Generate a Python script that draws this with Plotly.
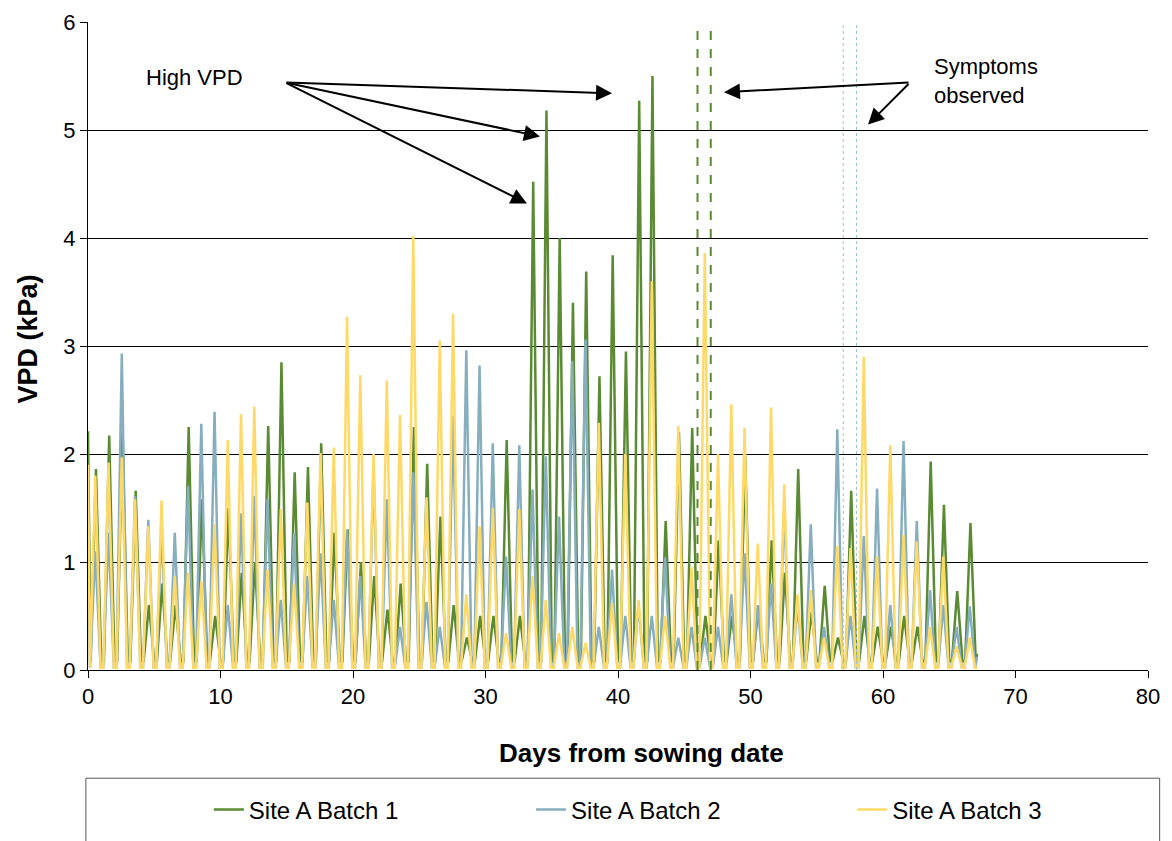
import plotly.graph_objects as go

# Daily peak VPD (kPa), one value per day 0..66
batch1_peaks = [1.86, 2.17, 2.21, 1.66, 0.60, 0.80, 0.60, 2.25, 1.58, 0.50,
                1.50, 0.90, 1.00, 2.26, 2.85, 1.83, 1.88, 2.10, 1.27, 1.30,
                1.00, 0.87, 0.56, 0.80, 2.25, 1.91, 1.42, 0.60, 0.30, 0.50,
                0.50, 2.13, 0.50, 4.52, 5.18, 4.00, 3.40, 3.69, 2.72, 3.84,
                2.95, 5.27, 5.50, 1.38, 2.20, 2.24, 0.50, 1.20, 0.50, 1.98,
                0.60, 1.20, 0.90, 1.86, 0.54, 0.78, 0.30, 1.66, 0.50, 0.40,
                0.40, 0.50, 0.40, 1.93, 1.53, 0.73, 1.36]
batch2_peaks = [1.10, 1.27, 2.93, 1.61, 1.39, 1.32, 1.27, 1.70, 2.28, 2.39,
                0.60, 1.45, 1.61, 1.58, 0.65, 1.27, 0.87, 1.08, 0.65, 1.30,
                0.87, 1.86, 1.58, 0.40, 1.83, 0.63, 0.40, 2.35, 2.96, 2.82,
                2.10, 1.05, 2.08, 1.67, 1.98, 1.42, 2.86, 3.06, 0.40, 0.93,
                0.50, 0.60, 0.50, 1.04, 0.30, 0.40, 0.30, 0.40, 0.70, 1.08,
                0.60, 0.80, 1.52, 0.60, 1.35, 0.40, 2.23, 0.50, 1.24, 1.68,
                0.60, 2.12, 1.38, 0.74, 0.60, 0.40, 0.59]
batch3_peaks = [1.80, 1.92, 1.97, 1.58, 1.33, 1.57, 0.87, 0.90, 0.82, 1.35,
                2.13, 2.37, 2.44, 0.93, 1.49, 0.80, 1.55, 2.01, 2.06, 3.27,
                2.73, 2.00, 2.68, 2.36, 4.02, 1.60, 3.05, 3.30, 0.70, 1.33,
                1.50, 0.34, 1.49, 0.87, 0.65, 0.34, 0.40, 0.25, 2.29, 0.62,
                2.00, 0.65, 3.60, 0.50, 2.26, 0.95, 3.86, 2.00, 2.46, 2.24,
                1.17, 2.43, 1.72, 0.70, 0.74, 0.30, 1.15, 1.13, 2.90, 1.05,
                2.08, 1.25, 1.19, 0.40, 1.05, 0.22, 0.30]
start_values = [2.21, 1.20, 1.90]
night_values = [0.08, 0.02, 0.02]
end_values = [0.15, 0.12, 0.02]
peak_offsets = [0.60, 0.55, 0.55]
series_names = ["Site A Batch 1", "Site A Batch 2", "Site A Batch 3"]
series_colors = ["#5a8a32", "#86aebe", "#ffd966"]
last_day = 67.1

symptom_b1_days = [46, 47]
symptom_b2_days = [57, 58]

x_ticks = [0, 10, 20, 30, 40, 50, 60, 70, 80]
y_ticks = [0, 1, 2, 3, 4, 5, 6]


def build(peaks, start, night, end, off):
    xs, ys = [0.0], [start]
    for d, p in enumerate(peaks):
        xs += [d + off - 0.4, d + off, d + off + 0.4]
        ys += [night, p, night]
    xs.append(last_day)
    ys.append(end)
    return xs, ys


font_main = "Liberation Sans, Arial, sans-serif"
legend_names = ["legend", "legend2", "legend3"]
legend_x = [0.114, 0.418, 0.721]

fig = go.Figure()
for i, peaks in enumerate([batch1_peaks, batch2_peaks, batch3_peaks]):
    xs, ys = build(peaks, start_values[i], night_values[i], end_values[i], peak_offsets[i])
    fig.add_trace(go.Scatter(x=xs, y=ys, mode="lines", name=series_names[i],
                             legend=legend_names[i],
                             line=dict(color=series_colors[i], width=2.5)))

shapes = []
for d in symptom_b1_days:
    shapes.append(dict(type="line", xref="x", yref="y", x0=d, x1=d, y0=0, y1=6,
                       line=dict(color="#5a8a32", width=2, dash="dash"), layer="above"))
for d in symptom_b2_days:
    shapes.append(dict(type="line", xref="x", yref="y", x0=d, x1=d, y0=0, y1=6,
                       line=dict(color="#9cc2d2", width=1, dash="dot"), layer="above"))
# legend frame
shapes.append(dict(type="rect", xref="paper", yref="paper", x0=-0.002, x1=1.011,
                   y0=-0.167, y1=-0.30, line=dict(color="#555555", width=1),
                   fillcolor="rgba(0,0,0,0)"))

annotations = []
annotations.append(dict(text="High VPD", x=11.85, y=5.49, xref="x", yref="y",
                        xanchor="right", yanchor="middle", showarrow=False,
                        font=dict(size=22, color="black", family=font_main)))
annotations.append(dict(text="Symptoms<br>observed", x=63.7, y=5.45, xref="x", yref="y",
                        xanchor="left", yanchor="middle", align="left", showarrow=False,
                        font=dict(size=22, color="black", family=font_main)))
arrows = [((14.87, 5.44), (39.55, 5.34)), ((14.87, 5.44), (34.11, 4.94)),
          ((14.87, 5.44), (33.13, 4.32)), ((62.04, 5.44), (48.0, 5.35)),
          ((62.04, 5.44), (58.87, 5.05))]
for (tx, ty), (hx, hy) in arrows:
    annotations.append(dict(text="", x=hx, y=hy, ax=tx, ay=ty, xref="x", yref="y",
                            axref="x", ayref="y", showarrow=True, arrowhead=2,
                            arrowsize=1.6, arrowwidth=2, arrowcolor="black", standoff=0))
annotations.append(dict(text="<b>VPD (kPa)</b>", x=-0.0575, y=0.51, xref="paper", yref="paper",
                        textangle=-90, showarrow=False, xanchor="center", yanchor="middle",
                        font=dict(size=27, color="black", family=font_main)))
annotations.append(dict(text="<b>Days from sowing date</b>", x=0.5217, y=-0.128, xref="paper",
                        yref="paper", showarrow=False, xanchor="center", yanchor="middle",
                        font=dict(size=26, color="black", family=font_main)))

legend_common = dict(orientation="h", y=-0.216, xanchor="left", yanchor="middle",
                     font=dict(size=24, color="black", family=font_main),
                     bgcolor="rgba(0,0,0,0)")
layout_legends = {}
for name, lx in zip(legend_names, legend_x):
    layout_legends[name] = dict(legend_common, x=lx)

fig.update_layout(
    width=1172, height=841,
    margin=dict(l=80, r=32, t=14, b=179, autoexpand=False),
    paper_bgcolor="white", plot_bgcolor="white",
    font=dict(family=font_main, color="black"),
    showlegend=True,
    shapes=shapes, annotations=annotations,
    **layout_legends,
)
fig.update_xaxes(range=[0, 80], tickvals=x_ticks, ticks="outside", ticklen=7,
                 tickcolor="black", showline=True, linecolor="black", linewidth=1,
                 showgrid=False, zeroline=False, automargin=False,
                 tickfont=dict(size=22, color="black"))
fig.update_yaxes(range=[0, 6], tickvals=y_ticks, ticks="outside", ticklen=7,
                 tickcolor="black", showline=True, linecolor="black", linewidth=1,
                 showgrid=True, gridcolor="black", gridwidth=1, zeroline=False,
                 automargin=False, tickfont=dict(size=22, color="black"))

fig.write_html("out.html")
